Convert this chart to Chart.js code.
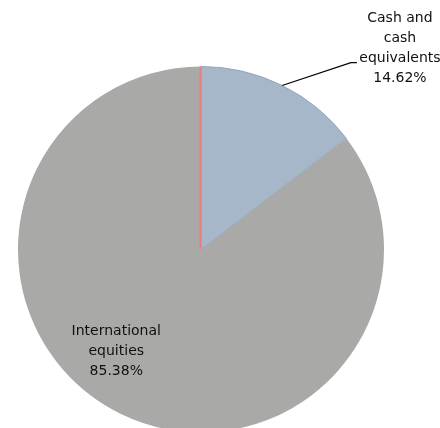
<!DOCTYPE html>
<html>
<head>
<meta charset="utf-8">
<script src="https://cdn.jsdelivr.net/npm/chart.js@4.4.1/dist/chart.umd.min.js"></script>
<style>
  html, body { margin: 0; padding: 0; background: #fff; overflow: hidden; }
  #wrap { position: relative; width: 440px; height: 440px; }
</style>
</head>
<body>
<div id="wrap"><canvas id="c"></canvas></div>
<script>
const categories = ['Cash and cash equivalents', 'International equities'];
const labelLines = [['Cash and', 'cash', 'equivalents'], ['International', 'equities']];
const values = [14.62, 85.38];
const colors = ['#A6B7CA', '#A9AAA7'];

const labelPlugin = {
  id: 'pieLabels',
  afterDatasetsDraw(chart) {
    const ctx = chart.ctx;
    const meta = chart.getDatasetMeta(0);
    const arcs = meta.data;
    if (!arcs.length) return;
    const cx = arcs[0].x, cy = arcs[0].y, R = arcs[0].outerRadius;
    ctx.save();
    // red line at start angle
    const sa = arcs[0].startAngle;
    ctx.strokeStyle = '#F07C7C';
    ctx.lineWidth = 2;
    ctx.beginPath();
    ctx.moveTo(cx - 0.5, cy);
    ctx.lineTo(cx - 0.5 + R * Math.cos(sa), cy + R * Math.sin(sa));
    ctx.stroke();

    ctx.font = '14px "DejaVu Sans", Verdana, sans-serif';
    ctx.fillStyle = '#111';
    ctx.textAlign = 'center';
    ctx.textBaseline = 'middle';
    const lh = 20;
    // label placement as fractions of radius relative to centre
    const offs = [[1.087, -1.098], [-0.463, 0.558]];
    arcs.forEach((arc, i) => {
      const lines = labelLines[i].concat([values[i].toFixed(2) + '%']);
      const lx = cx + offs[i][0] * R;
      const ly = cy + offs[i][1] * R;
      const top = ly - (lines.length - 1) * lh / 2;
      lines.forEach((t, k) => ctx.fillText(t, lx, top + k * lh));
      if (i === 0) {
        const mid = (arc.startAngle + arc.endAngle) / 2;
        const ex = cx + R * Math.cos(mid), ey = cy + R * Math.sin(mid);
        const ty = top + 2 * lh + 4;
        ctx.strokeStyle = '#000';
        ctx.lineWidth = 1.2;
        ctx.beginPath();
        ctx.moveTo(ex, ey);
        ctx.lineTo(lx - 49, ty);
        ctx.lineTo(lx - 43, ty);
        ctx.stroke();
      }
    });
    ctx.restore();
  }
};

new Chart(document.getElementById('c'), {
  type: 'pie',
  data: {
    labels: categories,
    datasets: [{
      data: values,
      backgroundColor: colors,
      borderColor: ['#93A6BE', '#A9AAA7'],
      borderWidth: [1, 0]
    }]
  },
  options: {
    responsive: true,
    maintainAspectRatio: false,
    animation: false,
    layout: { padding: { left: 17.5, right: 55.5, top: 66, bottom: 7 } },
    plugins: { legend: { display: false }, tooltip: { enabled: false } }
  },
  plugins: [labelPlugin]
});
</script>
</body>
</html>
